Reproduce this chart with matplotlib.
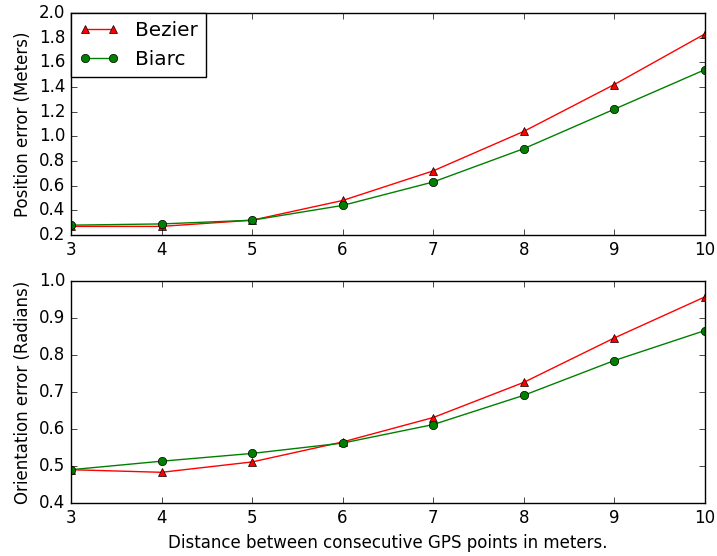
import numpy as np
import matplotlib
matplotlib.use("Agg")
import matplotlib.pyplot as plt

plt.style.use('classic')

# data
spacing = [3, 4, 5, 6, 7, 8, 9, 10]

pos_bezier = [0.27, 0.27, 0.32, 0.48, 0.72, 1.04, 1.42, 1.83]
pos_biarc = [0.28, 0.29, 0.32, 0.44, 0.63, 0.90, 1.22, 1.54]

ori_bezier = [0.490, 0.483, 0.511, 0.565, 0.631, 0.726, 0.846, 0.957]
ori_biarc = [0.490, 0.513, 0.534, 0.562, 0.612, 0.691, 0.785, 0.866]

fig = plt.figure(figsize=(7.17, 5.56), dpi=100, facecolor='white')

ax1 = fig.add_axes([0.099, 0.5773, 0.884, 0.3993])
ax2 = fig.add_axes([0.099, 0.0953, 0.884, 0.3993])

ax1.plot(spacing, pos_bezier, 'r-^', label='Bezier')
ax1.plot(spacing, pos_biarc, 'g-o', label='Biarc')
ax1.set_xlim(3, 10)
ax1.set_ylim(0.2, 2.0)
ax1.set_yticks(np.arange(0.2, 2.01, 0.2))
ax1.set_ylabel('Position error (Meters)')
ax1.legend(loc='upper left', borderaxespad=0, fancybox=False)

ax2.plot(spacing, ori_bezier, 'r-^', label='Bezier')
ax2.plot(spacing, ori_biarc, 'g-o', label='Biarc')
ax2.set_xlim(3, 10)
ax2.set_ylim(0.4, 1.0)
ax2.set_ylabel('Orientation error (Radians)')
ax2.set_xlabel('Distance between consecutive GPS points in meters.')

fig.savefig('out.png', dpi=100, facecolor='white')
